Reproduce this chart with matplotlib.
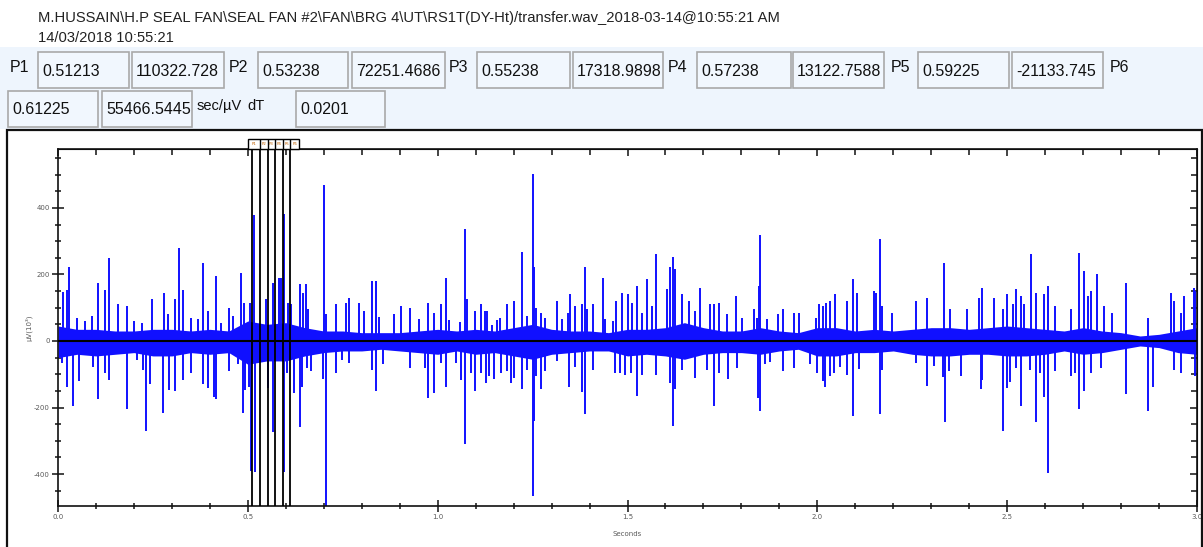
import matplotlib
matplotlib.use("Agg")
import matplotlib.pyplot as plt
from matplotlib.patches import Rectangle
from matplotlib.ticker import MultipleLocator

plt.rcParams["axes.unicode_minus"] = False

W, H = 1203, 547
BLUE = "#1010ff"

title_lines = [
    "M.HUSSAIN\\H.P SEAL FAN\\SEAL FAN #2\\FAN\\BRG 4\\UT\\RS1T(DY-Ht)/transfer.wav_2018-03-14@10:55:21 AM",
    "14/03/2018 10:55:21",
]

# cursor readouts
cursor_names = ["P1", "P2", "P3", "P4", "P5", "P6"]
cursor_times = [0.51213, 0.53238, 0.55238, 0.57238, 0.59225, 0.61225]
cursor_values = ["110322.728", "72251.4686", "17318.9898", "13122.7588", "-21133.745", "55466.5445"]
unit_label = "sec/\u00b5V"
dt_value = "0.0201"

# dense noise band of the waveform (upper / lower edge every 50 ms)
band_t = [0.00, 0.05, 0.10, 0.15, 0.20, 0.25, 0.30, 0.35, 0.40, 0.45,
          0.50, 0.55, 0.60, 0.65, 0.70, 0.75, 0.80, 0.85, 0.90, 0.95,
          1.00, 1.05, 1.10, 1.15, 1.20, 1.25, 1.30, 1.35, 1.40, 1.45,
          1.50, 1.55, 1.60, 1.65, 1.70, 1.75, 1.80, 1.85, 1.90, 1.95,
          2.00, 2.05, 2.10, 2.15, 2.20, 2.25, 2.30, 2.35, 2.40, 2.45,
          2.50, 2.55, 2.60, 2.65, 2.70, 2.75, 2.80, 2.85, 2.90, 2.95, 3.00]
band_hi = [45, 35, 35, 30, 30, 35, 35, 30, 35, 30,
           60, 50, 55, 40, 30, 30, 25, 25, 25, 30,
           35, 30, 35, 30, 40, 50, 35, 30, 30, 25,
           35, 35, 40, 55, 40, 30, 30, 40, 30, 25,
           40, 40, 30, 35, 30, 35, 40, 40, 35, 40,
           45, 40, 35, 30, 40, 30, 25, 15, 20, 30, 40]
band_lo = [-50, -40, -45, -40, -35, -45, -45, -35, -40, -35,
           -70, -60, -60, -45, -35, -30, -30, -25, -30, -35,
           -40, -30, -40, -35, -45, -55, -40, -35, -30, -30,
           -45, -40, -45, -55, -40, -35, -35, -40, -30, -25,
           -45, -45, -35, -35, -30, -40, -45, -45, -40, -40,
           -45, -45, -40, -30, -40, -35, -25, -15, -20, -35, -40]

# positive peaks (s, µV)
up_t = [0.012, 0.025, 0.028, 0.050, 0.070, 0.090, 0.106, 0.124, 0.135, 0.159,
        0.183, 0.200, 0.220, 0.247, 0.278, 0.290, 0.308, 0.319, 0.328, 0.350,
        0.370, 0.383, 0.396, 0.417, 0.430, 0.451, 0.460, 0.483, 0.490, 0.505,
        0.517, 0.549, 0.565, 0.582, 0.587, 0.594, 0.606, 0.613, 0.637, 0.644,
        0.653, 0.659, 0.701, 0.705, 0.733, 0.758, 0.767, 0.793, 0.806, 0.826,
        0.837, 0.846, 0.885, 0.903, 0.926, 0.951, 0.975, 0.990, 1.009, 1.023,
        1.030, 1.060, 1.071, 1.076, 1.098, 1.113, 1.124, 1.131, 1.142, 1.155,
        1.164, 1.183, 1.201, 1.223, 1.236, 1.251, 1.255, 1.260, 1.273, 1.284,
        1.315, 1.328, 1.344, 1.348, 1.363, 1.381, 1.387, 1.394, 1.409, 1.436,
        1.440, 1.462, 1.471, 1.486, 1.500, 1.512, 1.526, 1.539, 1.552, 1.565,
        1.576, 1.604, 1.611, 1.619, 1.625, 1.644, 1.661, 1.679, 1.692, 1.716,
        1.727, 1.740, 1.761, 1.787, 1.802, 1.832, 1.841, 1.846, 1.849, 1.867,
        1.896, 1.909, 1.938, 1.953, 1.997, 2.005, 2.014, 2.023, 2.034, 2.046,
        2.078, 2.093, 2.104, 2.148, 2.154, 2.166, 2.170, 2.197, 2.259, 2.290,
        2.334, 2.350, 2.394, 2.426, 2.435, 2.466, 2.490, 2.499, 2.515, 2.523,
        2.536, 2.545, 2.562, 2.576, 2.596, 2.607, 2.626, 2.668, 2.688, 2.703,
        2.712, 2.720, 2.736, 2.754, 2.777, 2.812, 2.872, 2.932, 2.940, 2.957,
        2.966, 2.992, 2.996]
up_v = [148, 153, 223, 70, 60, 75, 175, 153, 248, 110,
        106, 60, 55, 125, 145, 80, 125, 278, 153, 70,
        65, 233, 90, 195, 55, 100, 75, 205, 115, 113,
        380, 126, 175, 190, 188, 383, 113, 110, 170, 145,
        170, 95, 468, 80, 110, 115, 130, 115, 90, 180,
        180, 73, 80, 106, 100, 65, 115, 85, 110, 190,
        63, 58, 338, 125, 90, 110, 90, 90, 48, 63,
        70, 110, 120, 268, 75, 503, 223, 100, 85, 70,
        120, 65, 85, 140, 105, 110, 223, 95, 110, 190,
        65, 60, 120, 145, 140, 115, 165, 85, 185, 105,
        260, 155, 223, 253, 215, 140, 120, 90, 160, 110,
        110, 115, 80, 135, 70, 95, 70, 165, 318, 65,
        80, 95, 85, 85, 70, 110, 105, 115, 120, 140,
        120, 185, 145, 150, 145, 305, 105, 85, 120, 130,
        235, 95, 95, 130, 160, 130, 95, 140, 110, 155,
        135, 110, 260, 145, 140, 165, 105, 95, 263, 210,
        135, 150, 200, 105, 85, 175, 70, 145, 120, 85,
        135, 160, 150]

# negative peaks (s, µV)
down_t = [0.010, 0.025, 0.039, 0.054, 0.091, 0.106, 0.124, 0.135, 0.183, 0.208,
          0.223, 0.232, 0.243, 0.276, 0.293, 0.308, 0.328, 0.350, 0.383, 0.396,
          0.411, 0.416, 0.451, 0.473, 0.488, 0.493, 0.503, 0.508, 0.519, 0.552,
          0.566, 0.594, 0.604, 0.622, 0.637, 0.642, 0.655, 0.666, 0.699, 0.705,
          0.733, 0.747, 0.767, 0.826, 0.837, 0.855, 0.926, 0.967, 0.975, 0.990,
          1.010, 1.023, 1.047, 1.062, 1.071, 1.087, 1.098, 1.113, 1.126, 1.135,
          1.148, 1.166, 1.183, 1.192, 1.201, 1.223, 1.236, 1.251, 1.255, 1.260,
          1.271, 1.284, 1.315, 1.347, 1.363, 1.381, 1.387, 1.409, 1.467, 1.481,
          1.493, 1.510, 1.524, 1.539, 1.576, 1.611, 1.620, 1.625, 1.644, 1.679,
          1.710, 1.728, 1.740, 1.764, 1.789, 1.844, 1.849, 1.862, 1.875, 1.909,
          1.938, 1.980, 2.000, 2.014, 2.021, 2.034, 2.043, 2.060, 2.078, 2.093,
          2.109, 2.166, 2.170, 2.259, 2.290, 2.306, 2.331, 2.335, 2.346, 2.379,
          2.431, 2.435, 2.490, 2.499, 2.508, 2.523, 2.536, 2.560, 2.575, 2.587,
          2.596, 2.607, 2.626, 2.668, 2.678, 2.688, 2.703, 2.720, 2.748, 2.812,
          2.872, 2.885, 2.940, 2.957, 2.995]
down_v = [-67, -137, -195, -120, -77, -175, -97, -117, -205, -57,
          -87, -270, -130, -215, -147, -150, -117, -97, -130, -140,
          -167, -175, -90, -70, -215, -147, -137, -390, -395, -142,
          -275, -395, -97, -155, -260, -137, -82, -90, -115, -500,
          -97, -57, -65, -87, -150, -70, -82, -82, -170, -157,
          -67, -137, -67, -117, -309, -97, -149, -97, -127, -105,
          -115, -97, -90, -125, -112, -145, -87, -467, -240, -105,
          -145, -90, -60, -137, -77, -152, -220, -87, -97, -97,
          -102, -97, -165, -102, -102, -127, -255, -145, -87, -112,
          -87, -195, -97, -115, -82, -170, -210, -70, -62, -90,
          -82, -70, -95, -120, -137, -105, -95, -77, -102, -225,
          -85, -220, -87, -67, -135, -75, -107, -245, -90, -105,
          -145, -117, -270, -140, -122, -82, -195, -87, -245, -97,
          -167, -397, -90, -105, -97, -205, -150, -97, -82, -160,
          -210, -137, -87, -97, -105]


def fx(x):
    return x / W


def fy(y):
    return 1 - y / H


fig = plt.figure(figsize=(W / 100, H / 100), dpi=100)
fig.patch.set_facecolor("white")

# header: file path and timestamp
fig.text(fx(38), fy(18), title_lines[0], fontsize=10.6, family="Liberation Sans",
         va="center", ha="left", color="#222222")
fig.text(fx(38), fy(38), title_lines[1], fontsize=10.6, family="Liberation Sans",
         va="center", ha="left", color="#222222")

# cursor readout panel
fig.add_artist(Rectangle((0, fy(129)), 1, (129 - 47) / H, transform=fig.transFigure,
                         facecolor="#eef5fd", edgecolor="none", zorder=0))

box_font = "Liberation Sans"


def value_box(x0, x1, y0, y1, text):
    r = Rectangle((fx(x0), fy(y1)), (x1 - x0) / W, (y1 - y0) / H,
                  transform=fig.transFigure, facecolor="#f1f7fe",
                  edgecolor="#a9a9a9", linewidth=1.2, zorder=1)
    fig.add_artist(r)
    t = fig.text(fx(x0 + 4), fy((y0 + y1) / 2 + 1), text, fontsize=11.5, family=box_font,
                 va="center", ha="left", color="#111111", zorder=2)
    t.set_clip_path(r)


def label(x, y, text, size=11.5):
    fig.text(fx(x), fy(y), text, fontsize=size, family=box_font,
             va="center", ha="left", color="#111111", zorder=2)


row1 = (52, 88)
row2 = (91, 127)
label_x = [10, 229, 449, 668, 891, 1110]
time_boxes = [(38, 129), (258, 348), (477, 570), (697, 791), (918, 1009), (8, 98)]
value_boxes = [(132, 224), (352, 445), (573, 663), (793, 884), (1012, 1103), (102, 192)]
for i in range(6):
    label(label_x[i], 67, cursor_names[i])
    rows = row1 if i < 5 else row2
    value_box(*time_boxes[i], *rows, f"{cursor_times[i]:.5f}")
    value_box(*value_boxes[i], *rows, cursor_values[i])
label(197, 106, unit_label, size=10.5)
label(247, 106, "dT", size=10.5)
value_box(296, 385, *row2, dt_value)

# outer plot frame
fig.add_artist(Rectangle((fx(7), fy(560)), (1202 - 7) / W, (560 - 130) / H,
                         transform=fig.transFigure, facecolor="none",
                         edgecolor="#111111", linewidth=1.6, zorder=1))

# waveform axes
ax = fig.add_axes([fx(58), fy(506), (1197 - 58) / W, (506 - 149) / H])
ax.set_facecolor("white")
ax.set_xlim(0, 3)
ax.set_ylim(-496, 577)

ax.fill_between(band_t, band_lo, band_hi, color=BLUE, linewidth=0, zorder=2)
ax.vlines(up_t, 0, up_v, colors=BLUE, linewidth=1.4, zorder=2)
ax.vlines(down_t, 0, down_v, colors=BLUE, linewidth=1.4, zorder=2)
ax.axhline(0, color="black", linewidth=1.5, zorder=3)

# cursor lines with their tag strip on top
ax.vlines(cursor_times, -496, 606, colors="black", linewidth=1.3, zorder=4, clip_on=False)
strip_l, strip_r = 0.4995, 0.634
ax.add_patch(Rectangle((strip_l, 577), strip_r - strip_l, 29, facecolor="white",
                       edgecolor="black", linewidth=1.0, clip_on=False, zorder=5))
edges = [strip_l] + cursor_times[1:] + [strip_r]
for i, name in enumerate(cursor_names):
    ax.text((edges[i] + edges[i + 1]) / 2, 591, name, fontsize=2.8, color="#c06000",
            ha="center", va="center", clip_on=False, zorder=6)
ax.vlines(cursor_times[1:], 577, 606, colors="black", linewidth=1.0, zorder=6, clip_on=False)

for s in ax.spines.values():
    s.set_linewidth(1.2)
    s.set_color("#111111")

ax.xaxis.set_major_locator(MultipleLocator(0.5))
ax.xaxis.set_minor_locator(MultipleLocator(0.1))
ax.yaxis.set_major_locator(MultipleLocator(200))
ax.yaxis.set_minor_locator(MultipleLocator(50))
ax.tick_params(which="both", direction="inout", width=1.1, color="#111111",
               labelsize=5, labelcolor="#5a5a5a")
ax.tick_params(which="major", length=8, pad=2)
ax.tick_params(which="minor", length=5)

top = ax.secondary_xaxis("top")
top.xaxis.set_major_locator(MultipleLocator(0.5))
top.xaxis.set_minor_locator(MultipleLocator(0.1))
top.tick_params(which="both", direction="in", width=1.1, color="#111111", labeltop=False)
top.tick_params(which="major", length=5)
top.tick_params(which="minor", length=4)
right = ax.secondary_yaxis("right")
right.yaxis.set_major_locator(MultipleLocator(200))
right.yaxis.set_minor_locator(MultipleLocator(50))
right.tick_params(which="both", direction="in", width=1.1, color="#111111", labelright=False)
right.tick_params(which="major", length=5)
right.tick_params(which="minor", length=4)

ax.set_xlabel("Seconds", fontsize=5, color="#5a5a5a", labelpad=8)
ax.set_ylabel("\u00b5V(10\u00b3)", fontsize=5, color="#5a5a5a", labelpad=1)

fig.savefig("out.png", dpi=100)
